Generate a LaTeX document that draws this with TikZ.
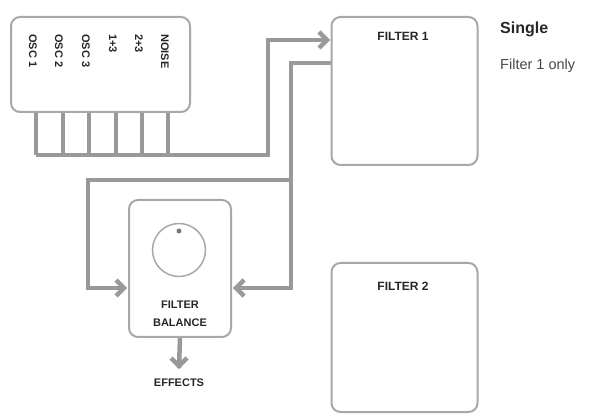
\documentclass[tikz,border=0pt]{standalone}
\usepackage{fontspec}
\setmainfont{Liberation Sans}
\usetikzlibrary{arrows.meta}
\definecolor{linegray}{HTML}{999999}
\definecolor{boxgray}{HTML}{A8A8A8}
\definecolor{txt}{HTML}{262626}
\tikzset{
  panel/.style={draw=boxgray, line width=2pt, rounded corners=9pt, fill=white, inner sep=0pt},
  conn/.style={draw=linegray, line width=4.5pt},
  chev/.style={draw=linegray, line width=4.5pt, line join=miter, line cap=butt},
  title/.style={font=\fontsize{12}{14}\selectfont\bfseries, text=txt, inner sep=0pt},
  small/.style={font=\fontsize{11}{13}\selectfont\bfseries, text=txt, inner sep=0pt},
  osc/.style={font=\fontsize{11}{13}\selectfont\bfseries, text=txt, inner sep=0pt, rotate=-90, anchor=west},
}
\begin{document}
\begin{tikzpicture}[x=1pt,y=-1pt]
\useasboundingbox (0,0) rectangle (590,417);
% source box tabs
\coordinate (t1) at (36,112); \coordinate (t1b) at (36,155);
\coordinate (t2) at (63,112); \coordinate (t2b) at (63,155);
\coordinate (t3) at (89,112); \coordinate (t3b) at (89,155);
\coordinate (t4) at (116,112); \coordinate (t4b) at (116,155);
\coordinate (t5) at (142,112); \coordinate (t5b) at (142,155);
\coordinate (t6) at (168,112); \coordinate (t6b) at (168,155);
\foreach \i in {1,...,6} {\draw[conn] (t\i) -- (t\i b);}
% panels
\node[panel, minimum width=179pt, minimum height=95pt] (src) at (100.5,64.5) {};
\node[panel, minimum width=146pt, minimum height=148pt] (f1) at (404.5,91) {};
\node[panel, minimum width=146pt, minimum height=149pt] (f2) at (404.5,337.5) {};
\node[panel, minimum width=102pt, minimum height=137pt] (bal) at (180,268.5) {};
% source labels
\node[osc] (o1) at (33,34) {OSC 1};
\node[osc] (o2) at (59,34) {OSC 2};
\node[osc] (o3) at (86,34) {OSC 3};
\node[osc] (o4) at (113,34) {1+3};
\node[osc] (o5) at (139,34) {2+3};
\node[osc] (o6) at (165,34) {NOISE};
% filter labels
\node[title] (f1t) at (403,36) {FILTER 1};
\node[title] (f2t) at (403,286) {FILTER 2};
% knob
\node[draw=boxgray, line width=1.5pt, circle, minimum size=53pt, inner sep=0pt] (knob) at (179,250) {};
\node[fill=linegray!80!black, circle, minimum size=5pt, inner sep=0pt] (dot) at (179,231) {};
\node[small] (bl1) at (180,305) {FILTER};
\node[small] (bl2) at (180,323) {BALANCE};
\node[small] (fx) at (179,383) {EFFECTS};
% mode text
\node[anchor=west, inner sep=0pt, font=\fontsize{16}{18}\selectfont\bfseries, text=txt] (mode) at (500,29) {Single};
\node[anchor=west, inner sep=0pt, font=\fontsize{14.5}{17}\selectfont, text=txt!85] (desc) at (500,66) {Filter 1 only};
% connector points
\coordinate (j1) at (268,155);
\coordinate (j2) at (268,40);
\coordinate (a1) at (327,40);
\coordinate (f1out) at (331,63);
\coordinate (k1) at (291,63);
\coordinate (k2) at (291,180);
\coordinate (k3) at (291,288);
\coordinate (a2) at (236,288);
\coordinate (l1) at (88,180);
\coordinate (l2) at (88,288);
\coordinate (a3) at (124,288);
\coordinate (a4) at (179,366);
% connectors
\draw[conn] (t1b) -- (j1) -- (j2) -- ([xshift=-2pt]a1);
\draw[conn] (f1out) -- (k1) -- (k2) -- (k3) -- ([xshift=2pt]a2);
\draw[conn] (k2) -- (l1) -- (l2) -- ([xshift=-2pt]a3);
\draw[conn] (bal.south) -- ([yshift=-2pt]a4);
% chevron tips
\draw[chev] ([shift={(-8,-8)}]a1) -- (a1) -- ([shift={(-8,8)}]a1);
\draw[chev] ([shift={(8,-8)}]a2) -- (a2) -- ([shift={(8,8)}]a2);
\draw[chev] ([shift={(-8,-8)}]a3) -- (a3) -- ([shift={(-8,8)}]a3);
\draw[chev] ([shift={(-8,-8)}]a4) -- (a4) -- ([shift={(8,-8)}]a4);
\end{tikzpicture}
\end{document}
